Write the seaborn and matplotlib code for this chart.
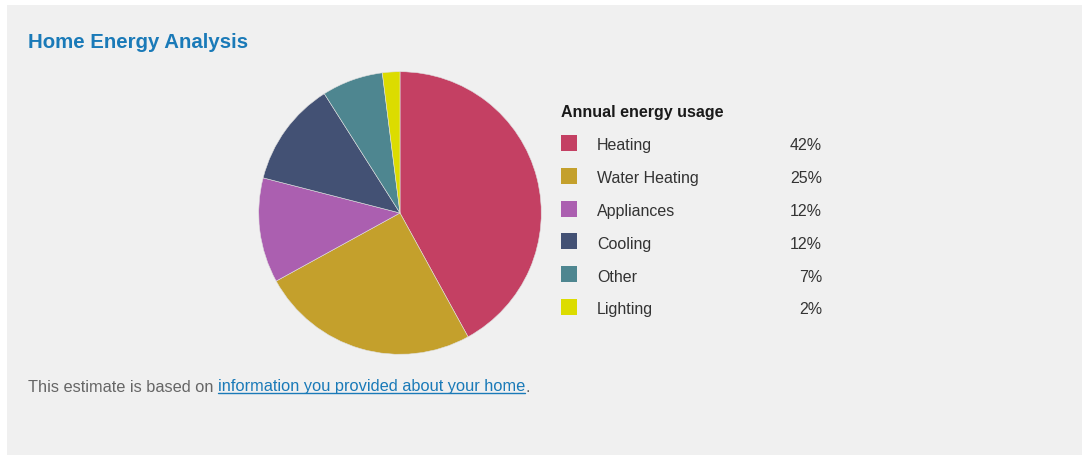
import matplotlib
matplotlib.use("Agg")
import matplotlib.pyplot as plt
import seaborn as sns
import pandas as pd
from matplotlib.patches import Rectangle
from matplotlib.lines import Line2D

categories = ["Heating", "Water Heating", "Appliances", "Cooling", "Other", "Lighting"]
values = [42, 25, 12, 12, 7, 2]
pct_labels = ["42%", "25%", "12%", "12%", "7%", "2%"]
colors = ["#c44063", "#c4a02c", "#ab5fb0", "#435174", "#4e8690", "#dcdc00"]

title_text = "Home Energy Analysis"
legend_title = "Annual energy usage"
footer_plain = "This estimate is based on "
footer_link = "information you provided about your home"
footer_end = "."

sns.set_theme(style="white")
plt.rcParams['font.family'] = ['Liberation Sans', 'DejaVu Sans']

W, H = 1082, 456
fig = plt.figure(figsize=(W / 100, H / 100), dpi=100)
fig.patch.set_facecolor("white")

def fx(px):
    return px / W

def fy(py):
    return 1 - py / H

# gray panel
fig.patches.append(Rectangle((fx(7), 0), 1 - fx(7), fy(6), transform=fig.transFigure,
                             facecolor="#f0f0f0", edgecolor="none", zorder=-10))

# Title
fig.text(fx(28), fy(42), title_text, fontsize=14.7, fontweight="bold", color="#1a7ab8",
         va="center", ha="left")

# Pie
cx, cy, r = 400, 214, 142
ax = fig.add_axes([fx(cx - r), fy(cy + r), fx(2 * r), (2 * r) / H])
ax.pie(values, colors=colors, startangle=90, counterclock=False, radius=1,
       wedgeprops=dict(linewidth=0.4, edgecolor="#e0e0e0"))
ax.set_xlim(-1.005, 1.005)
ax.set_ylim(-1.005, 1.005)
ax.set_axis_off()

# Legend axes (pixel-like coords)
lx0, lx1, ly0, ly1 = 550, 840, 95, 325
lax = fig.add_axes([fx(lx0), fy(ly1), fx(lx1 - lx0), (ly1 - ly0) / H])

row_y0, row_dy = 144, 32.8
df = pd.DataFrame({
    "category": categories,
    "row": list(range(len(categories))),
})
df["y"] = row_y0 + df["row"] * row_dy
df["x"] = 569
sns.scatterplot(data=df, x="x", y="y", hue="category", palette=colors, marker="s",
                s=135, linewidth=0, legend=False, ax=lax)
lax.set_xlim(lx0, lx1)
lax.set_ylim(ly1, ly0)
lax.set_axis_off()
lax.patch.set_alpha(0)

lax.text(561, 113, legend_title, fontsize=11.5, fontweight="bold", color="#1a1a1a",
         va="center", ha="left")
for i, (cat, pl) in enumerate(zip(categories, pct_labels)):
    yy = row_y0 + 2 + i * row_dy
    lax.text(597, yy, cat, fontsize=11.5, color="#333333", va="center", ha="left")
    lax.text(822, yy, pl, fontsize=11.5, color="#333333", va="center", ha="right")

# Footer
renderer = fig.canvas.get_renderer()
fy_txt = fy(387)
t1 = fig.text(fx(28), fy_txt, footer_plain, fontsize=11.8, color="#666666",
              va="center", ha="left")
bb1 = t1.get_window_extent(renderer)
t2 = fig.text(bb1.x1 / W, fy_txt, footer_link, fontsize=11.8, color="#1a7ab8",
              va="center", ha="left")
bb2 = t2.get_window_extent(renderer)
t3 = fig.text(bb2.x1 / W, fy_txt, footer_end, fontsize=11.8, color="#666666",
              va="center", ha="left")
uy = fy(394)
fig.lines.append(Line2D([bb2.x0 / W, bb2.x1 / W], [uy, uy], transform=fig.transFigure,
                        color="#1a7ab8", linewidth=1.0))

fig.savefig("out.png", dpi=100, facecolor=fig.get_facecolor())
